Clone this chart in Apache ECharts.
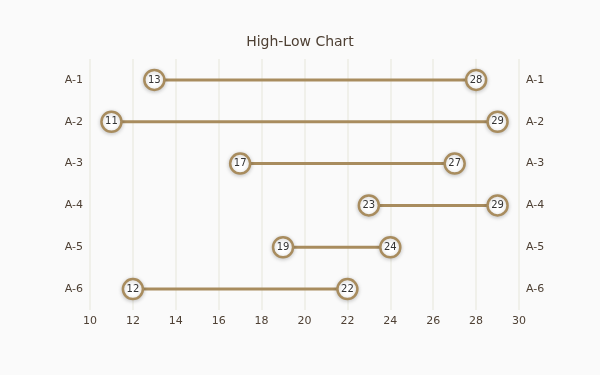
<!DOCTYPE html>
<html><head><meta charset="utf-8">
<script src="https://cdn.jsdelivr.net/npm/echarts@6/dist/echarts.min.js"></script>
<style>html,body{margin:0;padding:0;background:#fafafa}#c{width:600px;height:375px}</style>
</head><body><div id="c"></div>
<script>
var categories = ['A-1','A-2','A-3','A-4','A-5','A-6'];
var lowValues = [13, 11, 17, 23, 19, 12];
var highValues = [28, 29, 27, 29, 24, 22];
var xTicks = {min: 10, max: 30, interval: 2};

var lineColor = '#a88c5e';
var textColor = '#4e4034';
var series = categories.map(function (cat, i) {
  return {
    type: 'line',
    data: [[lowValues[i], cat], [highValues[i], cat]],
    symbol: 'circle',
    symbolSize: 20,
    lineStyle: {color: lineColor, width: 3},
    itemStyle: {color: '#fff', borderColor: lineColor, borderWidth: 2.5,
      shadowColor: 'rgba(0,0,0,0.2)', shadowBlur: 4, shadowOffsetY: 1},
    label: {show: true, position: 'inside', color: '#333', fontSize: 10, fontFamily: 'DejaVu Sans'},
    emphasis: {disabled: true},
    animation: false,
    silent: true
  };
});
var yAxisBase = {
  type: 'category', data: categories, inverse: true,
  axisLine: {show: false}, axisTick: {show: false}, splitLine: {show: false},
  axisLabel: {color: textColor, fontSize: 11, fontFamily: 'DejaVu Sans', margin: 7}
};
var chart = echarts.init(document.getElementById('c'));
chart.setOption({
  backgroundColor: '#fafafa',
  title: {text: 'High-Low Chart', left: 'center', top: 30,
    textStyle: {color: textColor, fontSize: 14, fontWeight: 'normal', fontFamily: 'DejaVu Sans'}},
  grid: {left: 90, right: 81, top: 59, height: 251},
  xAxis: {type: 'value', min: xTicks.min, max: xTicks.max, interval: xTicks.interval,
    axisLine: {show: false}, axisTick: {show: false},
    splitLine: {show: true, lineStyle: {color: '#f0f0ea', width: 2}},
    axisLabel: {color: textColor, fontSize: 11, fontFamily: 'DejaVu Sans', margin: 6}},
  yAxis: [
    Object.assign({position: 'left'}, yAxisBase),
    Object.assign({position: 'right'}, yAxisBase)
  ],
  series: series
});
</script></body></html>
